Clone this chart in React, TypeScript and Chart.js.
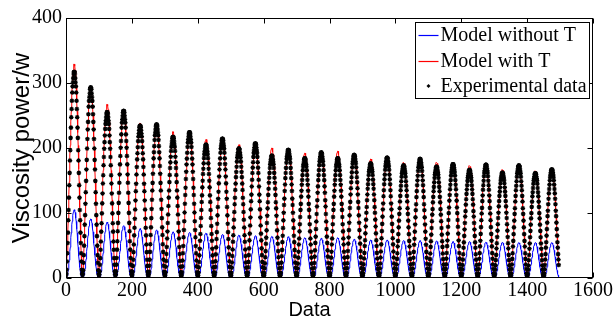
import React, { useEffect, useRef } from "react";
import { Chart, registerables } from "chart.js";

Chart.register(...registerables);

// ---- data ----
const PERIOD = 50; // samples per cycle
const SAMPLE_COUNT = 1497; // data index 0..1496
const xTicks = [0, 200, 400, 600, 800, 1000, 1200, 1400, 1600];
const yTicks = [0, 100, 200, 300, 400];

// peak value of each of the 30 cycles
const redPeaks = [329, 293, 267, 255, 238, 235, 225, 222, 213, 213, 205, 205, 200, 196, 192, 192, 195, 188, 183, 184, 178, 182, 178, 174, 173, 173, 167, 172, 165, 167];
const bluePeaks = [105, 91, 86, 80.5, 76, 74, 71, 70, 69, 67, 66, 65, 64, 63.5, 62, 61, 62, 59.5, 58.5, 58.5, 57.5, 57.5, 57, 56, 56, 55, 55, 54.5, 54.5, 54.5];
const expPeaks = [317, 293, 255, 257, 234, 236, 217, 224, 205, 214, 199, 207, 188, 197, 184, 193, 184, 189, 176, 185, 173, 183, 171, 175, 166, 174, 162, 173, 161, 167];

// shape of one cycle (fraction of the cycle peak), position 0..49 in the cycle
const redShape = [0, 0.02, 0.04, 0.08, 0.12, 0.17, 0.22, 0.28, 0.33, 0.39, 0.45, 0.51, 0.57, 0.62, 0.68, 0.73, 0.78, 0.82, 0.86, 0.9, 0.93, 0.95, 0.97, 0.99, 1.0, 1.0, 1.0, 0.99, 0.97, 0.95, 0.93, 0.9, 0.86, 0.82, 0.78, 0.73, 0.68, 0.62, 0.57, 0.51, 0.45, 0.39, 0.33, 0.28, 0.22, 0.17, 0.12, 0.08, 0.04, 0.02];
const blueShape = [0, 0, 0.01, 0.02, 0.03, 0.05, 0.08, 0.12, 0.16, 0.21, 0.26, 0.32, 0.39, 0.45, 0.52, 0.59, 0.66, 0.72, 0.78, 0.83, 0.88, 0.92, 0.96, 0.98, 0.99, 1.0, 0.99, 0.98, 0.96, 0.92, 0.88, 0.83, 0.78, 0.72, 0.66, 0.59, 0.52, 0.45, 0.39, 0.32, 0.26, 0.21, 0.16, 0.12, 0.08, 0.05, 0.03, 0.02, 0.01, 0];
const expShape = [0, 0.02, 0.04, 0.08, 0.12, 0.17, 0.22, 0.28, 0.33, 0.39, 0.45, 0.51, 0.57, 0.62, 0.68, 0.73, 0.78, 0.82, 0.86, 0.9, 0.93, 0.95, 0.97, 0.99, 1.0, 1.0, 1.0, 0.99, 0.97, 0.95, 0.93, 0.9, 0.86, 0.82, 0.78, 0.73, 0.68, 0.62, 0.57, 0.51, 0.45, 0.39, 0.33, 0.28, 0.22, 0.17, 0.12, 0.08, 0.04, 0.02];

const legendLabels = ["Model without T", "Model with T", "Experimental data"];
const legendColors = ["#0000ff", "#ff0000", "#000000"];
const xTitle = "Data";
const yTitle = "Viscosity power/w";

const SERIF = "'Liberation Serif', 'Times New Roman', serif";
const SANS = "'Liberation Sans', Arial, sans-serif";

function buildSeries(peaks: number[], shape: number[]) {
  const pts: { x: number; y: number }[] = [];
  for (let i = 0; i < SAMPLE_COUNT; i++) {
    pts.push({ x: i, y: peaks[Math.floor(i / PERIOD)] * shape[i % PERIOD] });
  }
  return pts;
}

const framePlugin = {
  id: "frameAndLegend",
  afterDraw(chart: any) {
    const { ctx, chartArea: a, scales } = chart;
    const L = Math.round(a.left) + 0.5;
    const R = Math.round(a.right) - 0.5;
    const T = Math.round(a.top) + 0.5;
    const B = Math.round(a.bottom) - 0.5;
    ctx.save();
    ctx.strokeStyle = "#000";
    ctx.lineWidth = 1;
    ctx.strokeRect(L, T, R - L, B - T);
    const tl = 5;
    ctx.beginPath();
    xTicks.forEach((v) => {
      const px = Math.round(scales.x.getPixelForValue(v)) + 0.5;
      ctx.moveTo(px, B);
      ctx.lineTo(px, B - tl);
      ctx.moveTo(px, T);
      ctx.lineTo(px, T + tl);
    });
    yTicks.forEach((v) => {
      const py = Math.round(scales.y.getPixelForValue(v)) + 0.5;
      ctx.moveTo(L, py);
      ctx.lineTo(L + tl, py);
      ctx.moveTo(R, py);
      ctx.lineTo(R - tl, py);
    });
    ctx.stroke();

    // axis titles
    ctx.fillStyle = "#000";
    ctx.textAlign = "center";
    ctx.textBaseline = "alphabetic";
    ctx.font = `20px ${SANS}`;
    ctx.fillText(xTitle, (a.left + a.right) / 2 - 20, 316);
    ctx.save();
    ctx.translate(29, (a.top + a.bottom) / 2);
    ctx.rotate(-Math.PI / 2);
    ctx.font = `24px ${SANS}`;
    ctx.fillText(yTitle, 0, 0);
    ctx.restore();

    // legend
    const bw = 174;
    const bh = 76;
    const bx = Math.round(a.right) - 178 + 0.5;
    const by = Math.round(a.top) + 4 + 0.5;
    ctx.fillStyle = "#fff";
    ctx.fillRect(bx, by, bw, bh);
    ctx.strokeStyle = "#000";
    ctx.lineWidth = 1;
    ctx.strokeRect(bx, by, bw, bh);
    const rows = [12, 38.5, 63.5];
    ctx.font = `20px ${SERIF}`;
    ctx.textBaseline = "middle";
    ctx.textAlign = "left";
    rows.forEach((ry, i) => {
      const y = by + ry;
      if (i < 2) {
        ctx.beginPath();
        ctx.strokeStyle = legendColors[i];
        ctx.lineWidth = 1.2;
        ctx.moveTo(bx + 3, Math.round(y) + 0.5);
        ctx.lineTo(bx + 23, Math.round(y) + 0.5);
        ctx.stroke();
      } else {
        ctx.fillStyle = legendColors[i];
        ctx.beginPath();
        ctx.moveTo(bx + 13, y - 2);
        ctx.lineTo(bx + 15, y);
        ctx.lineTo(bx + 13, y + 2);
        ctx.lineTo(bx + 11, y);
        ctx.closePath();
        ctx.fill();
      }
      ctx.fillStyle = "#000";
      ctx.fillText(legendLabels[i], bx + 25, y + 1);
    });
    ctx.restore();
  },
};

export default function App() {
  const ref = useRef<HTMLCanvasElement | null>(null);
  useEffect(() => {
    if (!ref.current) return;
    const chart = new Chart(ref.current, {
      type: "line",
      data: {
        datasets: [
          {
            label: legendLabels[2],
            data: buildSeries(expPeaks, expShape),
            showLine: false,
            pointStyle: "star",
            pointRadius: 2.3,
            pointBorderWidth: 1.2,
            pointBorderColor: "#000",
            pointBackgroundColor: "#000",
            order: 0,
          },
          {
            label: legendLabels[1],
            data: buildSeries(redPeaks, redShape),
            borderColor: "#ff0000",
            borderWidth: 1,
            pointRadius: 0,
            tension: 0,
            order: 1,
          },
          {
            label: legendLabels[0],
            data: buildSeries(bluePeaks, blueShape),
            borderColor: "#0000ff",
            borderWidth: 1,
            pointRadius: 0,
            tension: 0,
            order: 2,
          },
        ],
      },
      options: {
        animation: false,
        responsive: false,
        devicePixelRatio: 1,
        parsing: false,
        normalized: true,
        events: [],
        layout: { padding: { left: 0, right: 14, top: 18, bottom: 0 } },
        plugins: { legend: { display: false }, tooltip: { enabled: false } },
        scales: {
          x: {
            type: "linear",
            min: 0,
            max: 1600,
            afterFit: (s: any) => {
              s.height = 43;
            },
            afterBuildTicks: (s: any) => {
              s.ticks = xTicks.map((v) => ({ value: v }));
            },
            grid: { display: false, drawTicks: false },
            border: { display: false },
            ticks: {
              color: "#000",
              padding: 1,
              maxRotation: 0,
              autoSkip: false,
              font: { family: SERIF, size: 20 },
              callback: (v: any) => String(v),
            },
            title: { display: false },
          },
          y: {
            type: "linear",
            min: 0,
            max: 400,
            afterFit: (s: any) => {
              s.width = 66;
            },
            afterBuildTicks: (s: any) => {
              s.ticks = yTicks.map((v) => ({ value: v }));
            },
            grid: { display: false, drawTicks: false },
            border: { display: false },
            ticks: {
              color: "#000",
              padding: 4,
              autoSkip: false,
              font: { family: SERIF, size: 20 },
              callback: (v: any) => String(v),
            },
            title: { display: false },
          },
        },
      },
      plugins: [framePlugin],
    } as any);
    return () => chart.destroy();
  }, []);
  return (
    <div style={{ position: "fixed", left: 0, top: 0, width: 614, height: 321, background: "#fff" }}>
      <canvas ref={ref} width={614} height={321} style={{ display: "block", width: 614, height: 321 }} />
    </div>
  );
}
